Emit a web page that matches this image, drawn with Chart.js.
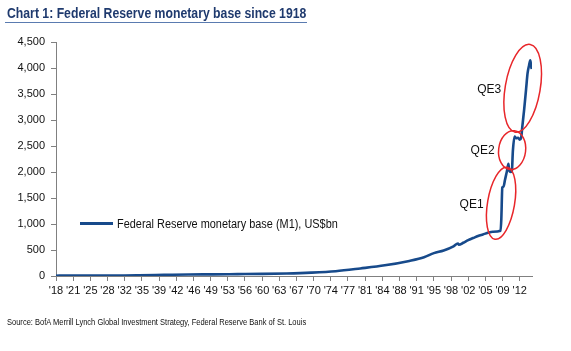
<!DOCTYPE html>
<html>
<head>
<meta charset="utf-8">
<script src="https://cdn.jsdelivr.net/npm/chart.js@4/dist/chart.umd.min.js"></script>
<style>
  html, body { margin: 0; padding: 0; background: #fff; }
  body { width: 571px; height: 351px; position: relative; overflow: hidden; font-family: "Liberation Sans", Arial, sans-serif; }
  #c { position: absolute; left: 0; top: 0; }
  #title { position: absolute; left: 7px; top: 5px; font-weight: bold; font-size: 14px; color: #1F3A6E; white-space: nowrap; transform-origin: 0 0; }
  #rule { position: absolute; left: 5px; top: 22px; width: 302px; height: 1px; background: #5A7BB0; }
  #source { position: absolute; left: 7px; top: 317px; font-size: 9px; color: #111; white-space: nowrap; transform-origin: 0 0; }
  #legend { position: absolute; left: 80px; top: 216px; height: 16px; white-space: nowrap; }
  #legend .ln { position: absolute; left: 0; top: 6px; width: 33px; height: 3px; }
  #legend .tx { position: absolute; left: 37px; top: 0; font-size: 12px; color: #111; line-height: 16px; transform-origin: 0 0; }
</style>
</head>
<body>
<canvas id="c" width="571" height="351"></canvas>
<div id="title">Chart 1: Federal Reserve monetary base since 1918</div>
<div id="rule"></div>
<div id="legend"><div class="ln"></div><div class="tx"></div></div>
<div id="source">Source: BofA Merrill Lynch Global Investment Strategy, Federal Reserve Bank of St. Louis</div>
<script>
// ---- data (decimal years, US$bn) ----
const years = [1918, 1920, 1925, 1930, 1935, 1940, 1945, 1950, 1955, 1960, 1965, 1970, 1975, 1980, 1985, 1990, 1993, 1995, 1997, 1999, 1999.9, 2000.1, 2001, 2002, 2003, 2004, 2005, 2006, 2007, 2008.6, 2008.75, 2008.95, 2009.2, 2009.5, 2009.9, 2010.2, 2010.3, 2010.7, 2010.9, 2011.1, 2011.45, 2011.8, 2012.2, 2012.5, 2012.8, 2013.0, 2013.4, 2013.8, 2014.1, 2014.4, 2014.65, 2014.8, 2014.95];
const baseValues = [6, 7, 7, 7, 12, 21, 30, 32, 36, 40, 48, 64, 92, 145, 205, 290, 360, 440, 490, 570, 625, 600, 640, 690, 730, 770, 800, 830, 850, 870, 1100, 1700, 1720, 1850, 2020, 2160, 2050, 2000, 2020, 2400, 2680, 2650, 2660, 2620, 2660, 2850, 3200, 3600, 3900, 4050, 4150, 4050, 3980];
const seriesName = "Federal Reserve monetary base (M1), US$bn";
const tickYears = [1918, 1921.5, 1925, 1928.5, 1932, 1935.5, 1939, 1942.5, 1946, 1949.5, 1953, 1956.5, 1960, 1963.5, 1967, 1970.5, 1974, 1977.5, 1981, 1984.5, 1988, 1991.5, 1995, 1998.5, 2002, 2005.5, 2009, 2012.5];
const tickLabels = ["'18", "'21", "'25", "'28", "'32", "'35", "'39", "'42", "'46", "'49", "'53", "'56", "'60", "'63", "'67", "'70", "'74", "'77", "'81", "'84", "'88", "'91", "'95", "'98", "'02", "'05", "'09", "'12"];
const yTicks = [0, 500, 1000, 1500, 2000, 2500, 3000, 3500, 4000, 4500];
// QE episodes: label, centre (year, value)
const qeLabels = ["QE1", "QE2", "QE3"];
const qeYears = [2008.7, 2010.95, 2013.1];
const qeValues = [1400, 2420, 3610];

const LINE = '#174A8B';
const AXIS = '#808080';

document.querySelector('#legend .ln').style.background = LINE;
document.querySelector('#legend .tx').textContent = seriesName;

function fitWidth(el, w) {
  const r = el.scrollWidth;
  el.style.transform = 'scaleX(' + (w / r) + ')';
}
fitWidth(document.getElementById('title'), 299);
fitWidth(document.getElementById('source'), 299);
fitWidth(document.querySelector('#legend .tx'), 221);

const qeShapes = [
  { rx: 13.5, ry: 36.5, rot: 0.17 },
  { rx: 13.5, ry: 19.5, rot: 0.12 },
  { rx: 17.5, ry: 44.5, rot: 0.17 }
];

const qePlugin = {
  id: 'qe',
  afterDatasetsDraw(chart) {
    const ctx = chart.ctx;
    const xs = chart.scales.x, ys = chart.scales.y;
    ctx.save();
    qeLabels.forEach((lab, i) => {
      const cx = xs.getPixelForValue(qeYears[i]);
      const cy = ys.getPixelForValue(qeValues[i]);
      const s = qeShapes[i];
      ctx.beginPath();
      ctx.ellipse(cx, cy, s.rx, s.ry, s.rot, 0, Math.PI * 2);
      ctx.strokeStyle = '#E8262A';
      ctx.lineWidth = 1.5;
      ctx.stroke();
      ctx.fillStyle = '#111';
      ctx.font = '12px "Liberation Sans", Arial, sans-serif';
      ctx.textAlign = 'right';
      ctx.textBaseline = 'middle';
      ctx.fillText(lab, cx - s.rx - 4, cy + 1);
    });
    ctx.restore();
  }
};

new Chart(document.getElementById('c'), {
  type: 'line',
  data: {
    datasets: [{
      label: seriesName,
      data: years.map((y, i) => ({ x: y, y: baseValues[i] })),
      borderColor: LINE,
      borderWidth: 2.6,
      pointRadius: 0,
      cubicInterpolationMode: 'monotone',
      fill: false
    }]
  },
  options: {
    responsive: false,
    animation: false,
    layout: { padding: { left: 0, right: 39, top: 42, bottom: 55 } },
    plugins: { legend: { display: false }, title: { display: false }, tooltip: { enabled: false } },
    scales: {
      x: {
        type: 'linear',
        min: 1918,
        max: 2015,
        afterBuildTicks(scale) { scale.ticks = tickYears.map(v => ({ value: v })); },
        afterFit(scale) { scale.height = 20; },
        ticks: {
          autoSkip: false,
          maxRotation: 0,
          padding: 3,
          color: '#111',
          font: { family: '"Liberation Sans", Arial, sans-serif', size: 11 },
          callback(v) { const i = tickYears.indexOf(v); return i >= 0 ? tickLabels[i] : ''; }
        },
        grid: { display: true, drawOnChartArea: false, drawTicks: true, tickLength: 5, color: AXIS },
        border: { display: true, color: AXIS, width: 1 }
      },
      y: {
        type: 'linear',
        min: 0,
        max: 4500,
        afterBuildTicks(scale) { scale.ticks = yTicks.map(v => ({ value: v })); },
        afterFit(scale) { scale.width = 56; },
        ticks: {
          padding: 6,
          color: '#111',
          font: { family: '"Liberation Sans", Arial, sans-serif', size: 11 },
          callback(v) { return v.toLocaleString('en-US'); }
        },
        grid: { display: true, drawOnChartArea: false, drawTicks: true, tickLength: 5, color: AXIS },
        border: { display: true, color: AXIS, width: 1 }
      }
    }
  },
  plugins: [qePlugin]
});
</script>
</body>
</html>
